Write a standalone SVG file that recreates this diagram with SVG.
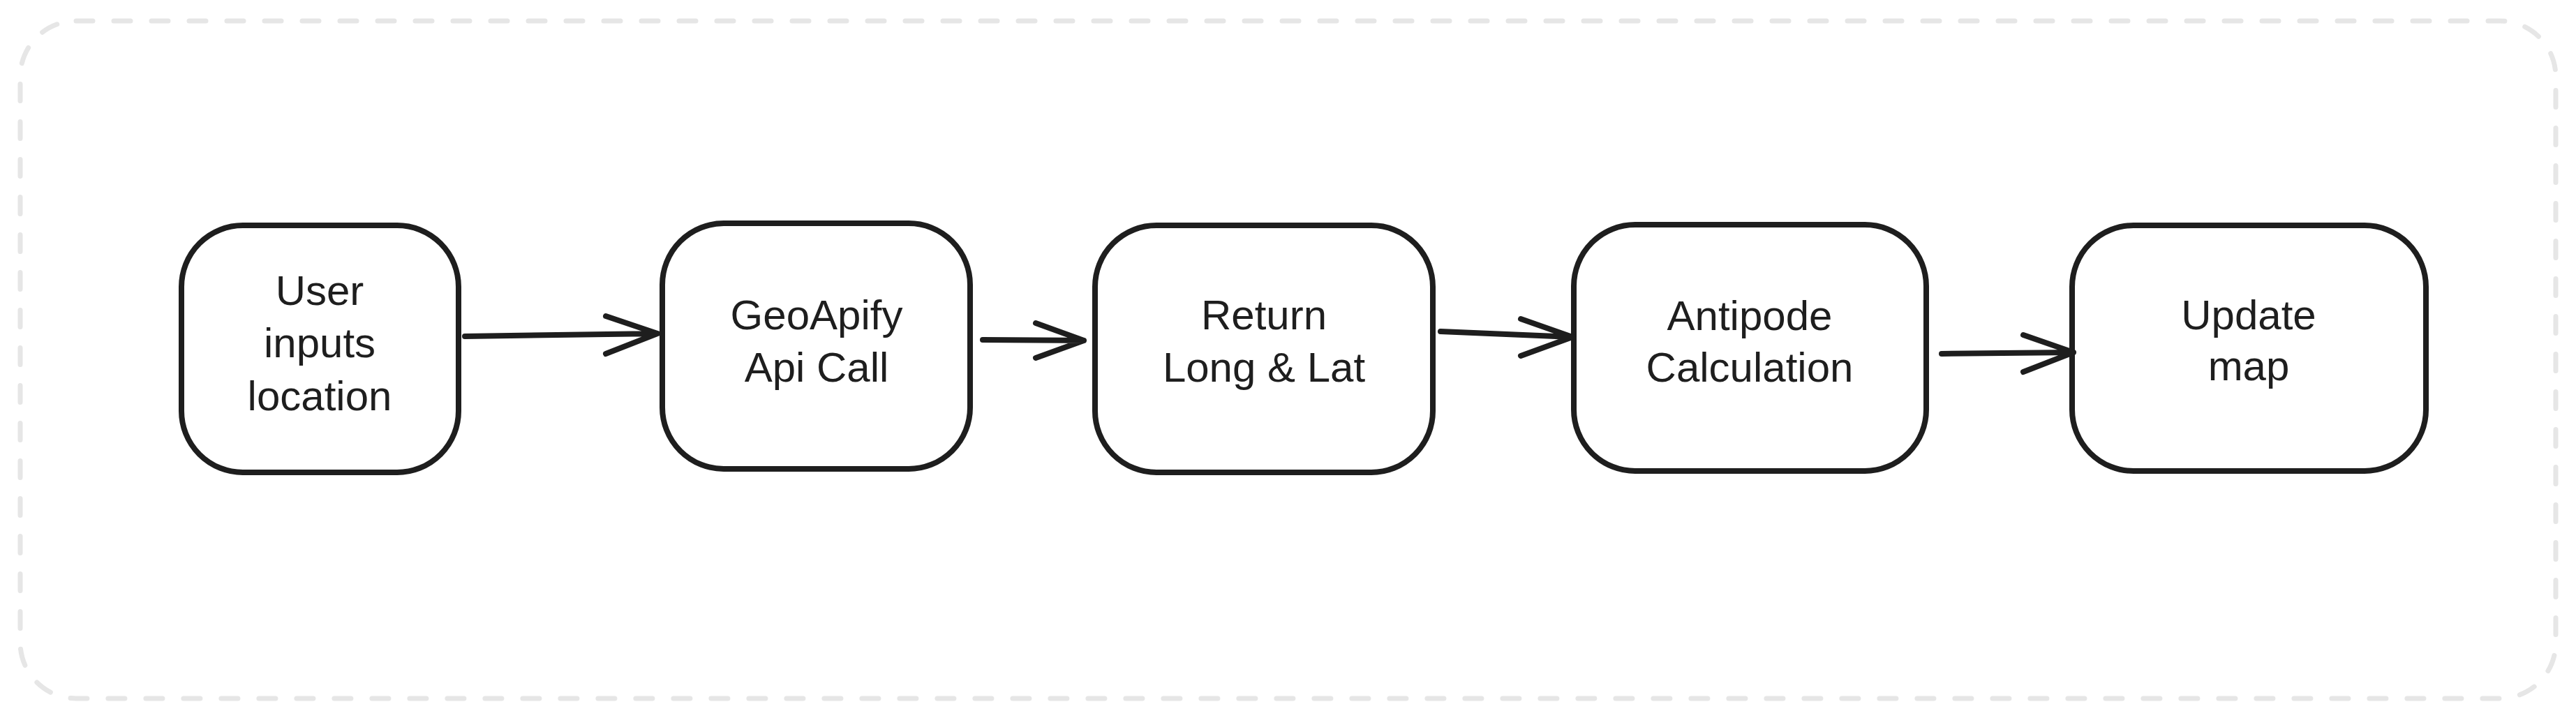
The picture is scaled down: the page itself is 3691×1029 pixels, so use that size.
<svg xmlns="http://www.w3.org/2000/svg" width="3691" height="1029" viewBox="0 0 3691 1029">
  <defs>
    <style>
      .frame { fill: none; stroke: #e6e6e6; stroke-width: 7; stroke-dasharray: 24 30; stroke-linecap: round; }
      .box { fill: #ffffff; stroke: #1e1e1e; stroke-width: 8; }
      .lbl { font-family: "Liberation Sans", "DejaVu Sans", sans-serif; font-size: 60px; fill: #1e1e1e; text-anchor: middle; }
      .edge { fill: none; stroke: #1e1e1e; stroke-width: 8; stroke-linecap: round; stroke-linejoin: round; }
    </style>
  </defs>
  <rect width="3691" height="1029" fill="#ffffff"/>
  <rect class="frame" x="29" y="30" width="3633" height="971" rx="80" ry="80"/>

  <g id="node-user-input">
    <rect class="box" x="260" y="323" width="397" height="354" rx="88" ry="88"/>
    <text class="lbl" x="458" y="437">User</text>
    <text class="lbl" x="458" y="512">inputs</text>
    <text class="lbl" x="458" y="588">location</text>
  </g>

  <g id="node-geoapify">
    <rect class="box" x="949" y="320" width="441" height="352" rx="88" ry="88"/>
    <text class="lbl" x="1170" y="472">GeoApify</text>
    <text class="lbl" x="1170" y="547">Api Call</text>
  </g>

  <g id="node-return">
    <rect class="box" x="1569" y="323" width="484" height="354" rx="88" ry="88"/>
    <text class="lbl" x="1811" y="472">Return</text>
    <text class="lbl" x="1811" y="547">Long &amp; Lat</text>
  </g>

  <g id="node-antipode">
    <rect class="box" x="2255" y="322" width="505" height="353" rx="88" ry="88"/>
    <text class="lbl" x="2507" y="473">Antipode</text>
    <text class="lbl" x="2507" y="547">Calculation</text>
  </g>

  <g id="node-update">
    <rect class="box" x="2969" y="323" width="507" height="352" rx="88" ry="88"/>
    <text class="lbl" x="3222" y="472">Update</text>
    <text class="lbl" x="3222" y="545">map</text>
  </g>

  <g id="connectors">
    <path class="edge" d="M666 482 L942 478 M868 453 L942 478 L868 507"/>
    <path class="edge" d="M1408 487 L1553 488 M1484 463 L1553 488 L1484 513"/>
    <path class="edge" d="M2064 475 L2253 483 M2179 457 L2253 483 L2179 510"/>
    <path class="edge" d="M2782 507 L2971 505 M2899 480 L2971 505 L2899 533"/>
  </g>
</svg>
